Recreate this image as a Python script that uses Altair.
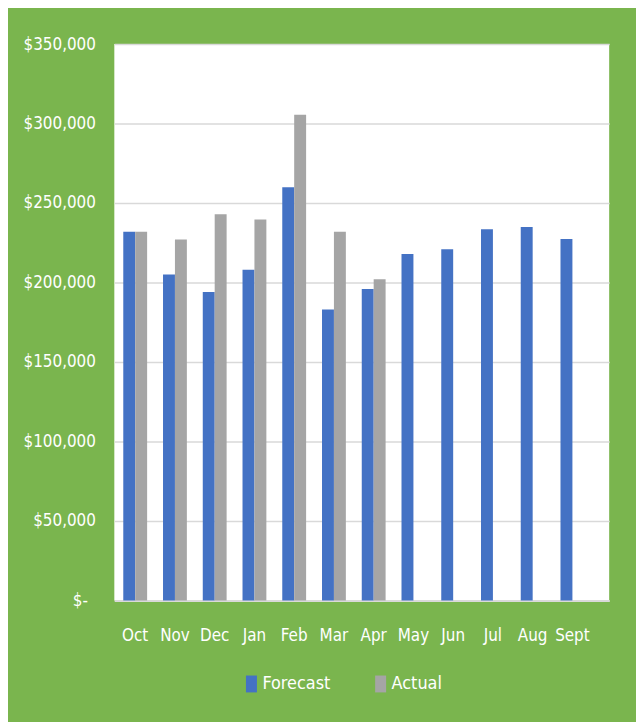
import altair as alt
import pandas as pd

months = ["Oct", "Nov", "Dec", "Jan", "Feb", "Mar", "Apr", "May", "Jun", "Jul", "Aug", "Sept"]
forecast = [232000, 205000, 194000, 208000, 260000, 183000, 196000, 218000, 221000, 233500, 235000, 227300]
actual = [232000, 227000, 243000, 239600, 305500, 232000, 202000]
series = ["Forecast", "Actual"]
colors = ["#4472c4", "#a5a5a5"]
y_ticks = [0, 50000, 100000, 150000, 200000, 250000, 300000, 350000]

rows = []
for i, m in enumerate(months):
    rows.append({"month": m, "series": "Forecast", "value": forecast[i]})
    if i < len(actual):
        rows.append({"month": m, "series": "Actual", "value": actual[i]})
df = pd.DataFrame(rows)

FONT = "DejaVu Sans Condensed, DejaVu Sans, sans-serif"

chart = alt.Chart(df).mark_bar().encode(
    x=alt.X("month:N", sort=months, title=None,
            scale=alt.Scale(paddingInner=0.4, paddingOuter=0.425, align=0.265),
            axis=alt.Axis(labelAngle=0, ticks=False, domain=True, domainColor="#d9d9d9",
                          domainWidth=2, labelColor="white", labelFontSize=17,
                          labelFont=FONT, labelPadding=27)),
    xOffset=alt.XOffset("series:N", sort=series),
    y=alt.Y("value:Q", title=None,
            scale=alt.Scale(domain=[0, 350000], nice=False),
            axis=alt.Axis(values=y_ticks, ticks=False, domain=False, grid=True,
                          gridColor="#d9d9d9", gridWidth=1.5,
                          labelColor="white", labelFontSize=17, labelFont=FONT,
                          labelPadding={"expr": "datum.value == 0 ? 27 : 19"},
                          labelExpr="datum.value == 0 ? '$-' : '$' + format(datum.value, ',')")),
    color=alt.Color("series:N", sort=series,
                    scale=alt.Scale(domain=series, range=colors),
                    legend=alt.Legend(title=None, orient="none", direction="horizontal",
                                      legendX=129, legendY=635,
                                      symbolType="M-0.65,-1L0.65,-1L0.65,1L-0.65,1Z",
                                      symbolSize=289, symbolStrokeWidth=0,
                                      labelColor="white", labelFontSize=18, labelFont=FONT,
                                      labelOffset=2, columnPadding=41)),
).properties(
    width=498, height=560,
    autosize=alt.AutoSizeParams(type="none"),
    padding={"left": 107, "top": 34, "right": 27, "bottom": 120},
    background="#7ab54e",
).configure_view(fill="white", stroke=None)

chart.save("out.html", embed_options={"renderer": "svg", "actions": False})
